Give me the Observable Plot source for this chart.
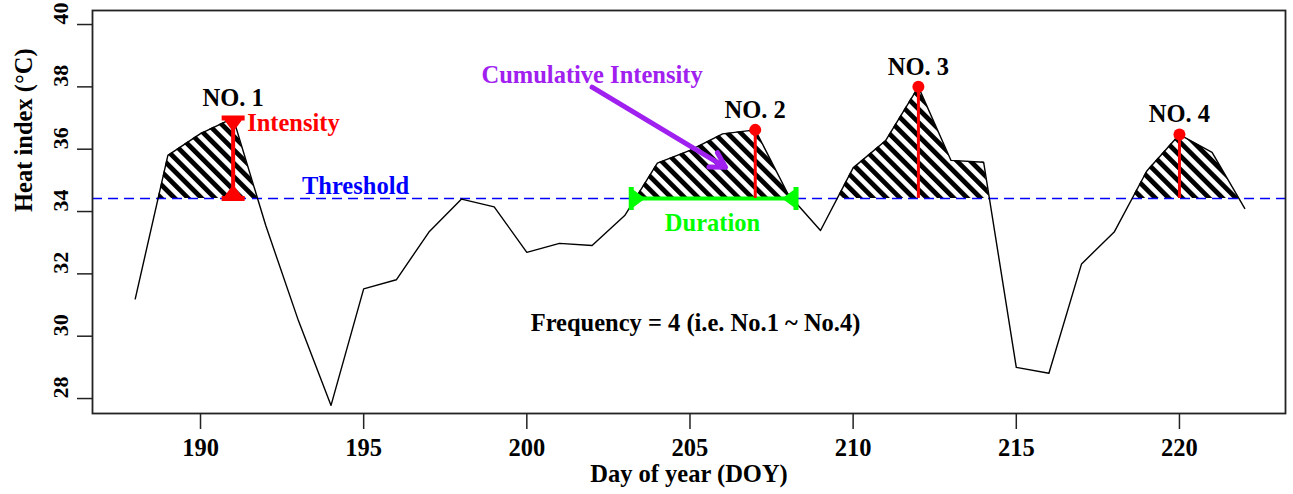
<!DOCTYPE html>
<html>
<head>
<meta charset="utf-8">
<script src="https://cdn.jsdelivr.net/npm/d3@7"></script>
<script src="https://cdn.jsdelivr.net/npm/@observablehq/plot@0.6"></script>
<style>
  body { margin: 0; background: #fff; }
  #chart svg { display: block; }
</style>
</head>
<body>
<div id="chart"></div>
<script>
// ---- data ----
const days = [188, 189, 190, 191, 192, 193, 194, 195, 196, 197, 198, 199, 200, 201, 202, 203, 204, 205,
              206, 207, 208, 209, 210, 211, 212, 213, 214, 215, 216, 217, 218, 219, 220, 221, 222];
const heatIndex = [31.2, 35.8, 36.5, 37.0, 33.55, 30.5, 27.78, 31.52, 31.81, 33.34, 34.4, 34.15, 32.69, 32.98, 32.91, 33.87, 35.55, 35.96,
                   36.49, 36.62, 34.57, 33.39, 35.4, 36.28, 38.0, 35.64, 35.58, 29.0, 28.81, 32.32, 33.34, 35.3, 36.47, 35.9, 34.1];
const threshold = 34.42;
const xTicks = [190, 195, 200, 205, 210, 215, 220];
const yTicks = [28, 30, 32, 34, 36, 38, 40];
const eventLabels = ["NO. 1", "NO. 2", "NO. 3", "NO. 4"];
const eventDays = [191, 207, 212, 220];
const durationDays = [203.2, 208.25];
const cumArrowStart = [202.0, 37.99];
const cumArrowEnd = [206.09, 35.42];
const noteTexts = ["Intensity", "Threshold", "Cumulative Intensity", "Duration", "Frequency = 4 (i.e. No.1 ~ No.4)"];
const noteDays = [191, 194.75, 202.0, 205.69, 205.17];
const noteValues = [36.85, 34.82, 38.39, 33.64, 30.43];

// ---- derived tables ----
const series = days.map((d, i) => ({day: d, hi: heatIndex[i]}));
const valueAt = (d) => heatIndex[days.indexOf(d)];
const events = eventLabels.map((label, i) => ({label, day: eventDays[i], hi: valueAt(eventDays[i])}));
const pins = events.slice(1);

// points of the exceedance area, with threshold crossings
const hatchPts = [];
for (let i = 0; i < series.length; i++) {
  const a = series[i];
  hatchPts.push({day: a.day, hi: Math.max(a.hi, threshold)});
  if (i < series.length - 1) {
    const b = series[i + 1];
    if ((a.hi - threshold) * (b.hi - threshold) < 0) {
      const t = (threshold - a.hi) / (b.hi - a.hi);
      hatchPts.push({day: a.day + t * (b.day - a.day), hi: threshold});
    }
  }
}

const notes = noteTexts.map((t, i) => ({text: t, day: noteDays[i], hi: noteValues[i]}));
const intensity = [{day: eventDays[0], from: threshold, to: valueAt(eventDays[0])}];
const duration = [{from: durationDays[0], to: durationDays[1], hi: threshold}];
const cumArrow = [{x1: cumArrowStart[0], y1: cumArrowStart[1], x2: cumArrowEnd[0], y2: cumArrowEnd[1]}];

// end cap: bar at the end point plus a funnel pointing inward (+y)
const endCap = {
  draw(ctx) {
    ctx.moveTo(-11.5, -2.5);
    ctx.lineTo(11.5, -2.5);
    ctx.lineTo(11.5, 2.5);
    ctx.lineTo(8.5, 2.5);
    ctx.lineTo(0, 14);
    ctx.lineTo(-8.5, 2.5);
    ctx.lineTo(-11.5, 2.5);
    ctx.closePath();
  }
};

const font = "'Liberation Serif', 'Times New Roman', serif";
const RED = "#ff0000", BLUE = "#0000ff", GREEN = "#00ff00", PURPLE = "#a020f0";

const chart = Plot.plot({
  width: 1293,
  height: 494,
  marginLeft: 92,
  marginRight: 8,
  marginTop: 10,
  marginBottom: 81,
  style: {fontFamily: font, fontWeight: "bold", fontSize: "24.5px", background: "white", color: "black", overflow: "visible"},
  x: {domain: [186.69, 223.25]},
  y: {domain: [27.52, 40.45]},
  marks: [
    Plot.areaY(hatchPts, {x: "day", y1: threshold, y2: "hi", fill: "url(#hatch)"}),
    Plot.ruleY([threshold], {stroke: BLUE, strokeWidth: 1.6, strokeDasharray: "10,6"}),
    Plot.line(series, {x: "day", y: "hi", stroke: "black", strokeWidth: 1.4}),
    // intensity arrow (event 1)
    Plot.link(intensity, {x1: "day", x2: "day", y1: "from", y2: "to", stroke: RED, strokeWidth: 4}),
    Plot.dot(intensity, {x: "day", y: "to", symbol: endCap, fill: RED, stroke: "none", rotate: 0}),
    Plot.dot(intensity, {x: "day", y: "from", symbol: endCap, fill: RED, stroke: "none", rotate: 180}),
    // duration arrow (event 2)
    Plot.link(duration, {x1: "from", x2: "to", y1: "hi", y2: "hi", stroke: GREEN, strokeWidth: 4}),
    Plot.dot(duration, {x: "from", y: "hi", symbol: endCap, fill: GREEN, stroke: "none", rotate: -90}),
    Plot.dot(duration, {x: "to", y: "hi", symbol: endCap, fill: GREEN, stroke: "none", rotate: 90}),
    // peak pins
    Plot.ruleX(pins, {x: "day", y1: threshold, y2: "hi", stroke: RED, strokeWidth: 3}),
    Plot.dot(pins, {x: "day", y: "hi", r: 6, fill: RED, stroke: "none"}),
    // cumulative intensity arrow
    Plot.arrow(cumArrow, {x1: "x1", y1: "y1", x2: "x2", y2: "y2", stroke: PURPLE, strokeWidth: 5, headLength: 5, headAngle: 60}),
    // event labels
    Plot.text(events, {x: "day", y: "hi", text: "label", dy: -20, fill: "black", fontSize: 24.5}),
    // notes
    Plot.text([notes[0]], {x: "day", y: "hi", text: "text", dx: 14, textAnchor: "start", fill: RED, fontSize: 24.5}),
    Plot.text([notes[1]], {x: "day", y: "hi", text: "text", fill: BLUE, fontSize: 24.5}),
    Plot.text([notes[2]], {x: "day", y: "hi", text: "text", fill: PURPLE, fontSize: 24.5}),
    Plot.text([notes[3]], {x: "day", y: "hi", text: "text", fill: GREEN, fontSize: 24.5}),
    Plot.text([notes[4]], {x: "day", y: "hi", text: "text", fill: "black", fontSize: 24.5}),
    // axes
    Plot.frame({stroke: "#222", strokeWidth: 1.8}),
    Plot.axisX({ticks: xTicks, tickSize: 16, tickPadding: 9, label: null, stroke: "#222", strokeWidth: 1.5, fontSize: 24.5, tickFormat: (d) => String(d)}),
    Plot.axisY({ticks: yTicks, tickSize: 15, label: null, stroke: "#222", strokeWidth: 1.5, tickFormat: () => ""}),
    Plot.text(yTicks, {y: (d) => d, text: (d) => String(d), frameAnchor: "left", dx: -32, rotate: -90, fontSize: 22, fill: "black"}),
    Plot.text(["Heat index (°C)"], {frameAnchor: "left", dx: -68, rotate: -90, fontSize: 24.5, fill: "black"}),
    Plot.text(["Day of year (DOY)"], {frameAnchor: "bottom", dy: 68.5, fontSize: 24.5, fill: "black"})
  ]
});

// hatch pattern for the exceedance area
const ns = "http://www.w3.org/2000/svg";
const defs = document.createElementNS(ns, "defs");
const pattern = document.createElementNS(ns, "pattern");
pattern.setAttribute("id", "hatch");
pattern.setAttribute("patternUnits", "userSpaceOnUse");
pattern.setAttribute("width", "9.5");
pattern.setAttribute("height", "9.5");
pattern.setAttribute("patternTransform", "rotate(-45)");
const stripe = document.createElementNS(ns, "rect");
stripe.setAttribute("x", "0");
stripe.setAttribute("y", "0");
stripe.setAttribute("width", "4.8");
stripe.setAttribute("height", "9.5");
stripe.setAttribute("fill", "black");
pattern.appendChild(stripe);
defs.appendChild(pattern);
chart.insertBefore(defs, chart.firstChild);

document.getElementById("chart").appendChild(chart);
</script>
</body>
</html>
